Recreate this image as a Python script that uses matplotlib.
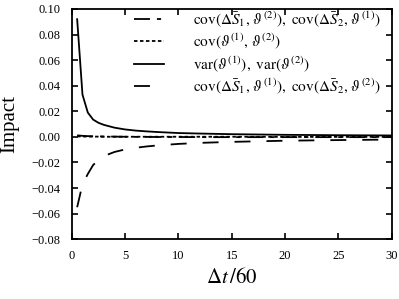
import matplotlib
matplotlib.use("Agg")
import matplotlib.pyplot as plt

plt.rcParams['font.family'] = ['Liberation Serif', 'DejaVu Serif']
plt.rcParams['mathtext.fontset'] = 'stix'
plt.rcParams['lines.scale_dashes'] = False

x = [0.5, 1, 1.5, 2, 2.5, 3, 4, 5, 6, 7, 8, 10, 12, 15, 20, 25, 30]
var_theta = [0.092, 0.033, 0.019, 0.0135, 0.011, 0.0094, 0.0072, 0.0058, 0.0049,
             0.0043, 0.0038, 0.0030, 0.0026, 0.0021, 0.0016, 0.0013, 0.0011]
cov_S_same = [-0.055, -0.037, -0.029, -0.022, -0.018, -0.015, -0.0118, -0.0098, -0.0085,
              -0.0075, -0.0067, -0.0055, -0.0047, -0.0039, -0.0030, -0.0025, -0.0021]
cov_S_cross = [0.0012, 0.0008, 0.0006, 0.0005, 0.0004, 0.0003, 0.0002, 0.0001, 0.0,
               0.0, -0.0001, -0.0001, -0.0002, -0.0002, -0.0002, -0.0002, -0.0002]
cov_theta = [0.0004, 0.0003, 0.0002, 0.0002, 0.0002, 0.0001, 0.0001, 0.0001, 0.0001,
             0.0001, 0.0001, 0.0001, 0.0001, 0.0001, 0.0, 0.0, 0.0]

labels = [r'$\mathrm{cov}(\Delta\bar{S}_1,\, \vartheta^{(2)}),\ \mathrm{cov}(\Delta\bar{S}_2,\, \vartheta^{(1)})$',
          r'$\mathrm{cov}(\vartheta^{(1)},\, \vartheta^{(2)})$',
          r'$\mathrm{var}(\vartheta^{(1)}),\ \mathrm{var}(\vartheta^{(2)})$',
          r'$\mathrm{cov}(\Delta\bar{S}_1,\, \vartheta^{(1)}),\ \mathrm{cov}(\Delta\bar{S}_2,\, \vartheta^{(2)})$']

fig = plt.figure(figsize=(3.99, 2.99), dpi=100)
ax = fig.add_axes([0.180, 0.200, 0.802, 0.770])

lw = 1.3
ax.plot(x, cov_S_cross, color='black', lw=lw, dashes=(11.5, 5, 3, 5), label=labels[0])
ax.plot(x, cov_theta, color='black', lw=lw, dashes=(2.5, 1.8), label=labels[1])
ax.plot(x, var_theta, color='black', lw=lw, label=labels[2])
ax.plot(x, cov_S_same, color='black', lw=lw, dashes=(11.5, 11.5), label=labels[3])

ax.set_xlim(0, 30)
ax.set_ylim(-0.08, 0.10)
ax.set_xticks([0, 5, 10, 15, 20, 25, 30])
ax.set_yticks([-0.08, -0.06, -0.04, -0.02, 0.0, 0.02, 0.04, 0.06, 0.08, 0.10])
ax.set_yticklabels(['\u22120.08', '\u22120.06', '\u22120.04', '\u22120.02', '0.00',
                    '0.02', '0.04', '0.06', '0.08', '0.10'])
ax.tick_params(direction='in', top=True, right=True, length=4, width=1.2,
               labelsize=9, pad=8)
for s in ax.spines.values():
    s.set_linewidth(1.3)

ax.set_xlabel(r'$\Delta t\,/60$', fontsize=15, labelpad=4)
ax.set_ylabel('Impact', fontsize=15, labelpad=9)

ax.legend(loc='upper right', frameon=False, fontsize=11, handlelength=2.0,
          handletextpad=1.9, labelspacing=0.18, borderaxespad=0.3,
          bbox_to_anchor=(1.0, 1.045))

fig.savefig('out.png', dpi=100)
